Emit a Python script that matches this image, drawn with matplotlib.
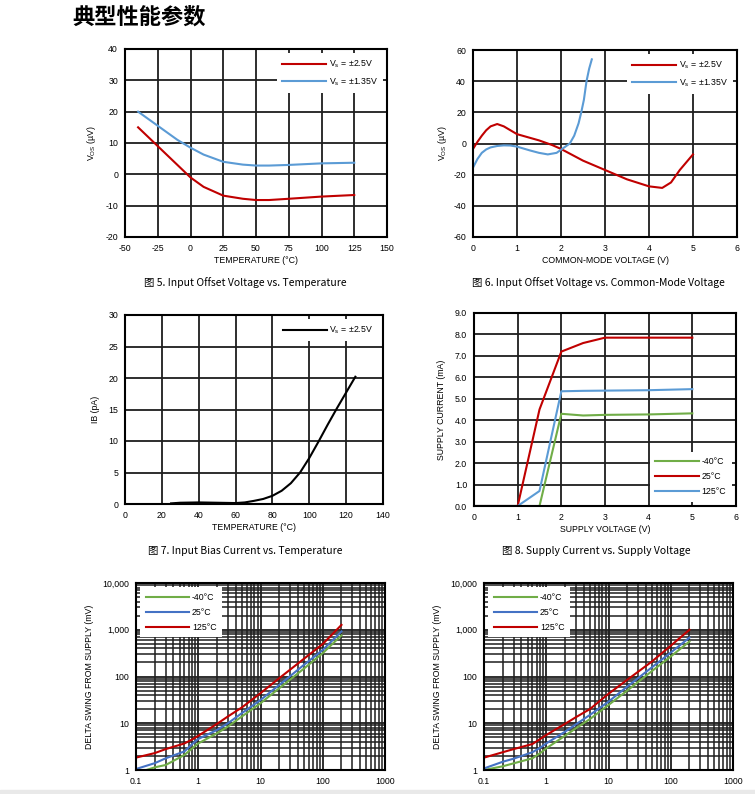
import matplotlib.pyplot as plt
from matplotlib.ticker import FuncFormatter, LogLocator, NullFormatter
from matplotlib.patches import Rectangle

plt.rcParams['font.family'] = ['Liberation Sans', 'DejaVu Sans']
plt.rcParams['axes.unicode_minus'] = False

W, H = 755, 794
RED = '#c00000'
LBLUE = '#5b9bd5'
BLUE = '#4472c4'
GREEN = '#70ad47'
GRID = '#1e1e1e'
CJK = ['Noto Sans CJK SC', 'DejaVu Sans']

# Fig 5: offset voltage vs temperature
t5 = [-40, -25, -10, 0, 10, 25, 40, 50, 60, 75, 100, 125]
vos5_25 = [15, 9, 3, -1, -4, -6.8, -7.8, -8.2, -8.2, -7.8, -7.1, -6.6]
vos5_135 = [20, 15.5, 11, 8.5, 6.3, 4, 3.1, 2.8, 2.8, 3, 3.5, 3.7]

# Fig 6: offset voltage vs common-mode voltage
vcm_25 = [0, 0.1, 0.2, 0.3, 0.4, 0.55, 0.7, 0.85, 1.0, 1.25, 1.5, 1.8, 2.0, 2.5, 3.0, 3.5, 4.0, 4.3, 4.5, 4.7, 5.0]
vos6_25 = [-3.5, 1, 5, 8.5, 11, 12.5, 11, 8.5, 6, 4, 2, -1, -3.5, -11, -17, -23, -27.5, -28.5, -25, -17, -7]
vcm_135 = [0, 0.1, 0.2, 0.3, 0.4, 0.55, 0.7, 0.85, 1.0, 1.3, 1.5, 1.7, 1.9, 2.0, 2.1, 2.2, 2.3, 2.4, 2.46, 2.52, 2.58, 2.64, 2.7]
vos6_135 = [-15.5, -10, -6, -3.8, -2.5, -1.6, -1.2, -1.3, -2, -4.5, -6, -7, -6, -4, -2, 0, 5, 13, 20, 28, 40, 48, 54]

# Fig 7: bias current vs temperature
t7 = [25, 30, 40, 50, 60, 65, 70, 75, 80, 85, 90, 95, 100, 105, 110, 115, 120, 125]
ib7 = [0.1, 0.2, 0.25, 0.2, 0.15, 0.25, 0.5, 0.8, 1.3, 2.1, 3.3, 5, 7.3, 9.9, 12.6, 15.2, 17.7, 20.2]

# Fig 8: supply current vs supply voltage
vs8 = [0, 1, 1.5, 2, 2.5, 3, 4, 5]
is8_m40 = [0, 0, 0, 4.3, 4.22, 4.25, 4.27, 4.32]
is8_25 = [0, 0, 4.5, 7.2, 7.6, 7.85, 7.85, 7.85]
is8_125 = [0, 0, 0.7, 5.35, 5.37, 5.38, 5.4, 5.45]

# Swing from supply (two bottom panels)
il = [0.1, 0.2, 0.3, 0.6, 0.8, 1, 2, 3, 5, 10, 20, 50, 100, 200]
sw9_m40 = [0.85, 1.14, 1.28, 2.1, 2.9, 3.7, 6.1, 8.5, 13.9, 26.8, 56, 148, 316, 760]
sw9_25 = [1.05, 1.4, 1.78, 2.5, 3.6, 4.6, 7.2, 10, 16.4, 31.5, 66, 178, 370, 920]
sw9_125 = [1.84, 2.3, 2.8, 3.7, 4.5, 5.4, 9.7, 14, 21.7, 44, 92, 240, 495, 1270]
sw10_m40 = [1.0, 1.2, 1.39, 1.78, 2.3, 2.9, 5.4, 7.8, 12.2, 24.6, 50, 131, 268, 560]
sw10_25 = [1.08, 1.5, 1.75, 2.4, 3.0, 3.7, 6.6, 9.5, 15, 29, 61, 158, 325, 680]
sw10_125 = [1.84, 2.4, 2.8, 3.6, 4.6, 5.6, 9.7, 13.5, 20, 42.6, 85, 210, 455, 1000]


def add_ax(l, r, t, b):
    return fig.add_axes([l / W, 1 - b / H, (r - l) / W, (b - t) / H])


def style(ax):
    ax.grid(True, which='major', color=GRID, lw=1.3)
    ax.set_axisbelow(True)
    for s in ax.spines.values():
        s.set_linewidth(1.5)
        s.set_color('black')
    ax.tick_params(labelsize=6.3, length=0, pad=5)


def leg(ax, loc):
    lg = ax.legend(loc=loc, fontsize=6.3, frameon=True, fancybox=False, handlelength=5,
                   borderpad=0.6, labelspacing=0.7, handletextpad=0.3)
    lg.get_frame().set_edgecolor('none')
    lg.get_frame().set_facecolor('white')
    lg.get_frame().set_alpha(1)
    return lg


fig = plt.figure(figsize=(W / 100, H / 100), dpi=100)
fig.patches.append(Rectangle((0, 0), 1, 4 / H, transform=fig.transFigure,
                             color='#e9e9e9', zorder=-1))
fig.text(72 / W, 1 - 17 / H, '典型性能参数', family=CJK, fontsize=16,
         fontweight='bold', va='center', ha='left')

# ---- Fig 5
ax1 = add_ax(125, 387, 49, 237)
ax1.plot(t5, vos5_25, color=RED, lw=1.5, label='V$_\\mathregular{s}$ = ±2.5V')
ax1.plot(t5, vos5_135, color=LBLUE, lw=1.5, label='V$_\\mathregular{s}$ = ±1.35V')
ax1.set_xlim(-50, 150)
ax1.set_ylim(-20, 40)
ax1.set_xticks(range(-50, 151, 25))
ax1.set_yticks(range(-20, 41, 10))
style(ax1)
ax1.set_xlabel('TEMPERATURE (°C)', fontsize=6.3, labelpad=2)
ax1.set_ylabel('V$_\\mathregular{OS}$ (µV)', fontsize=6.3, labelpad=5)
leg(ax1, 'upper right')
fig.text(245 / W, 1 - 283 / H, '图 5. Input Offset Voltage vs. Temperature',
         family=CJK, fontsize=7.5, ha='center', va='center')

# ---- Fig 6
ax2 = add_ax(473, 737, 50, 237)
ax2.plot(vcm_25, vos6_25, color=RED, lw=1.5, label='V$_\\mathregular{s}$ = ±2.5V')
ax2.plot(vcm_135, vos6_135, color=LBLUE, lw=1.5, label='V$_\\mathregular{s}$ = ±1.35V')
ax2.set_xlim(0, 6)
ax2.set_ylim(-60, 60)
ax2.set_xticks(range(0, 7))
ax2.set_yticks(range(-60, 61, 20))
style(ax2)
ax2.set_xlabel('COMMON-MODE VOLTAGE (V)', fontsize=6.3, labelpad=2)
ax2.set_ylabel('V$_\\mathregular{OS}$ (µV)', fontsize=6.3, labelpad=3)
leg(ax2, 'upper right')
fig.text(598 / W, 1 - 283 / H, '图 6. Input Offset Voltage vs. Common-Mode Voltage',
         family=CJK, fontsize=7.5, ha='center', va='center')

# ---- Fig 7
ax3 = add_ax(125, 383, 315, 504)
ax3.plot(t7, ib7, color='black', lw=1.5, label='V$_\\mathregular{s}$ = ±2.5V')
ax3.set_xlim(0, 140)
ax3.set_ylim(0, 30)
ax3.set_xticks(range(0, 141, 20))
ax3.set_yticks(range(0, 31, 5))
style(ax3)
ax3.set_xlabel('TEMPERATURE (°C)', fontsize=6.3, labelpad=2)
ax3.set_ylabel('IB (pA)', fontsize=6.3, labelpad=6)
leg(ax3, 'upper right')
fig.text(245 / W, 1 - 551 / H, '图 7. Input Bias Current vs. Temperature',
         family=CJK, fontsize=7.5, ha='center', va='center')

# ---- Fig 8
ax4 = add_ax(474, 736, 313, 506)
ax4.plot(vs8, is8_m40, color=GREEN, lw=1.5, label='-40°C')
ax4.plot(vs8, is8_25, color=RED, lw=1.5, label='25°C')
ax4.plot(vs8, is8_125, color=LBLUE, lw=1.5, label='125°C')
ax4.set_xlim(0, 6)
ax4.set_ylim(0, 9)
ax4.set_xticks(range(0, 7))
ax4.set_yticks(range(0, 10))
ax4.yaxis.set_major_formatter(FuncFormatter(lambda v, p: '%.1f' % v))
style(ax4)
ax4.set_xlabel('SUPPLY VOLTAGE (V)', fontsize=6.3, labelpad=2)
ax4.set_ylabel('SUPPLY CURRENT (mA)', fontsize=6.3, labelpad=6)
leg(ax4, 'lower right')
fig.text(596 / W, 1 - 551 / H, '图 8. Supply Current vs. Supply Voltage',
         family=CJK, fontsize=7.5, ha='center', va='center')

# ---- swing panels
comma = FuncFormatter(lambda v, p: '{:,.0f}'.format(v))
xfmt = FuncFormatter(lambda v, p: '{:g}'.format(v))
for (l, r), m40, c25, c125 in [((136, 385), sw9_m40, sw9_25, sw9_125),
                               ((484, 733), sw10_m40, sw10_25, sw10_125)]:
    ax = add_ax(l, r, 583, 770)
    ax.plot(il, m40, color=GREEN, lw=1.5, label='-40°C')
    ax.plot(il, c25, color=BLUE, lw=1.5, label='25°C')
    ax.plot(il, c125, color=RED, lw=1.5, label='125°C')
    ax.set_xscale('log')
    ax.set_yscale('log')
    ax.set_xlim(0.1, 1000)
    ax.set_ylim(1, 10000)
    ax.xaxis.set_minor_locator(LogLocator(subs=range(2, 10)))
    ax.yaxis.set_minor_locator(LogLocator(subs=range(2, 10)))
    ax.xaxis.set_minor_formatter(NullFormatter())
    ax.yaxis.set_minor_formatter(NullFormatter())
    ax.xaxis.set_major_formatter(xfmt)
    ax.yaxis.set_major_formatter(comma)
    style(ax)
    ax.grid(True, which='minor', color=GRID, lw=1.1)
    ax.tick_params(which='minor', length=0)
    ax.set_ylabel('DELTA SWING FROM SUPPLY (mV)', fontsize=6.3, labelpad=6)
    leg(ax, 'upper left')

plt.savefig('out.png', dpi=100)
